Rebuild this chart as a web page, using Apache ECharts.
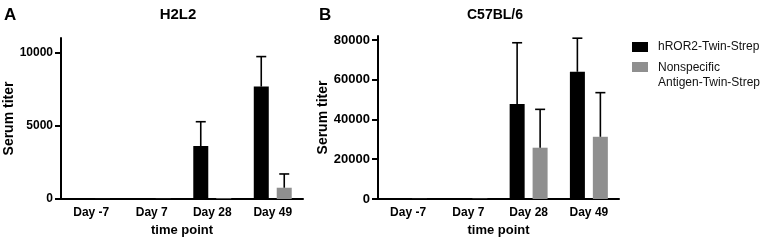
<!DOCTYPE html>
<html>
<head>
<meta charset="utf-8">
<script src="https://cdn.jsdelivr.net/npm/echarts@6/dist/echarts.min.js"></script>
<style>
  html, body { margin: 0; padding: 0; background: #fff; }
  #chart { width: 772px; height: 243px; }
</style>
</head>
<body>
<div id="chart"></div>
<script>
const timePoints = ['Day -7', 'Day 7', 'Day 28', 'Day 49']
const legendNames = ['hROR2-Twin-Strep', 'Nonspecific\nAntigen-Twin-Strep']

// H2L2 panel (A)
const h2l2Specific = [10, 40, 3620, 7680]
const h2l2SpecificErr = [0, 0, 1660, 2050]
const h2l2Nonspecific = [5, 10, 40, 770]
const h2l2NonspecificErr = [0, 0, 0, 940]
const h2l2Ticks = [0, 5000, 10000]

// C57BL/6 panel (B)
const c57Specific = [150, 300, 47800, 64000]
const c57SpecificErr = [0, 0, 30800, 16900]
const c57Nonspecific = [80, 150, 25800, 31300]
const c57NonspecificErr = [0, 0, 19300, 22200]
const c57Ticks = [0, 20000, 40000, 60000, 80000]

const FONT = 'Liberation Sans, Arial, sans-serif'
const BLACK = '#000'
const GREY = '#8f8f8f'

const chart = echarts.init(document.getElementById('chart'))

const errorBars = (idx, means, errs, offset) => ({
  type: 'custom',
  xAxisIndex: idx,
  yAxisIndex: idx,
  z: 3,
  silent: true,
  data: means.map((m, i) => [i, m, m + errs[i]]),
  renderItem: (params, api) => {
    if (api.value(2) <= api.value(1)) return
    const base = api.coord([api.value(0), api.value(1)])
    const top = api.coord([api.value(0), api.value(2)])
    const x = base[0] + offset
    const style = { stroke: BLACK, lineWidth: 1.6 }
    return {
      type: 'group',
      children: [
        { type: 'line', shape: { x1: x, y1: base[1], x2: x, y2: top[1] }, style },
        { type: 'line', shape: { x1: x - 5, y1: top[1], x2: x + 5, y2: top[1] }, style }
      ]
    }
  }
})

const xAxisFor = idx => ({
  type: 'category',
  gridIndex: idx,
  data: timePoints,
  name: 'time point',
  nameLocation: 'middle',
  nameGap: 24,
  nameTextStyle: { fontFamily: FONT, fontWeight: 'bold', fontSize: 13, color: BLACK },
  axisLine: { lineStyle: { color: BLACK, width: 2 } },
  axisTick: { alignWithLabel: true, length: 5, lineStyle: { color: BLACK, width: 2 } },
  axisLabel: { fontFamily: FONT, fontWeight: 'bold', fontSize: 12, color: BLACK, margin: 8 }
})

const yAxisFor = (idx, max, ticks, labelSize) => ({
  type: 'value',
  gridIndex: idx,
  min: 0,
  max: max,
  name: 'Serum titer',
  nameLocation: 'middle',
  nameGap: 44,
  nameTextStyle: { fontFamily: FONT, fontWeight: 'bold', fontSize: 14, color: BLACK },
  axisLine: { show: true, lineStyle: { color: BLACK, width: 2 } },
  axisTick: { show: true, length: 6, customValues: ticks, lineStyle: { color: BLACK, width: 2 } },
  axisLabel: {
    fontFamily: FONT, fontWeight: 'bold', fontSize: labelSize, color: BLACK, margin: 8,
    customValues: ticks,
    formatter: v => String(v)
  },
  splitLine: { show: false }
})

const barSeries = (idx, name, data, color) => ({
  name: name,
  type: 'bar',
  xAxisIndex: idx,
  yAxisIndex: idx,
  data: data,
  barWidth: 15,
  barGap: '53%',
  itemStyle: { color: color }
})

const option = {
  animation: false,
  backgroundColor: '#fff',
  grid: [
    { left: 61, top: 38, width: 242, height: 161 },
    { left: 378, top: 36, width: 241, height: 163 }
  ],
  xAxis: [xAxisFor(0), xAxisFor(1)],
  yAxis: [yAxisFor(0, 11000, h2l2Ticks, 12), yAxisFor(1, 82000, c57Ticks, 13)],
  series: [
    barSeries(0, legendNames[0], h2l2Specific, BLACK),
    barSeries(0, legendNames[1], h2l2Nonspecific, GREY),
    errorBars(0, h2l2Specific, h2l2SpecificErr, -11.5),
    errorBars(0, h2l2Nonspecific, h2l2NonspecificErr, 11.5),
    barSeries(1, legendNames[0], c57Specific, BLACK),
    barSeries(1, legendNames[1], c57Nonspecific, GREY),
    errorBars(1, c57Specific, c57SpecificErr, -11.5),
    errorBars(1, c57Nonspecific, c57NonspecificErr, 11.5)
  ],
  graphic: [
    { type: 'text', x: 4, y: 7, style: { text: 'A', font: 'bold 17px ' + FONT, fill: BLACK } },
    { type: 'text', x: 178, y: 15, style: { text: 'H2L2', font: 'bold 15px ' + FONT, fill: BLACK, textAlign: 'center', textVerticalAlign: 'middle' } },
    { type: 'text', x: 319, y: 7, style: { text: 'B', font: 'bold 17px ' + FONT, fill: BLACK } },
    { type: 'text', x: 495, y: 15, style: { text: 'C57BL/6', font: 'bold 14px ' + FONT, fill: BLACK, textAlign: 'center', textVerticalAlign: 'middle' } },
    { type: 'rect', shape: { x: 632, y: 42, width: 16, height: 10 }, style: { fill: BLACK } },
    { type: 'text', x: 658, y: 47, style: { text: legendNames[0], font: '12px ' + FONT, fill: '#111', textVerticalAlign: 'middle' } },
    { type: 'rect', shape: { x: 632, y: 62, width: 16, height: 10 }, style: { fill: GREY } },
    { type: 'text', x: 658, y: 60, style: { text: legendNames[1], font: '12px ' + FONT, fill: '#111', lineHeight: 15 } }
  ]
}

chart.setOption(option)
</script>
</body>
</html>
